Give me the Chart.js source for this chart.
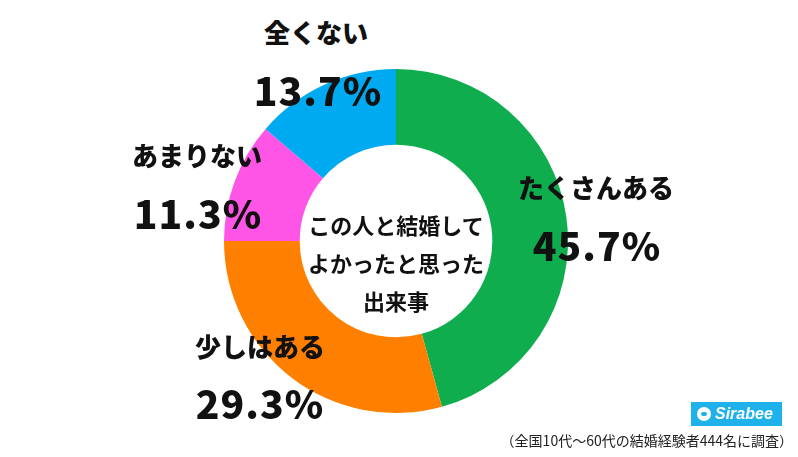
<!DOCTYPE html>
<html lang="ja">
<head>
<meta charset="utf-8">
<script src="https://cdn.jsdelivr.net/npm/chart.js@4"></script>
<style>
  html, body { margin: 0; padding: 0; background: #fff; }
  body { width: 798px; height: 457px; position: relative; overflow: hidden;
         font-family: "Noto Sans CJK JP", "Noto Sans", sans-serif; color: #111; }
  #wrap { position: absolute; left: 224px; top: 69px; width: 344px; height: 344px; }
  .lbl { position: absolute; transform: translate(-50%, -50%); white-space: nowrap;
         line-height: 1; font-weight: 900; }
  .cat { font-size: 26px; }
  .pct { font-size: 39px; font-weight: 900; letter-spacing: 1px; }
  #center { position: absolute; left: 396px; top: 262px; transform: translate(-50%, -50%);
            text-align: center; font-size: 22px; font-weight: 700; line-height: 38px; }
  #logo { position: absolute; left: 691px; top: 402px; width: 91px; height: 24px; background: #1fb1ea;
          color: #fff; font-family: "Liberation Sans", sans-serif; font-style: italic; font-weight: 700;
          font-size: 16px; line-height: 24px; }
  #logo .dot { position: absolute; left: 6px; top: 5px; width: 14px; height: 14px; border-radius: 50%; background: #fff; }
  #logo .dot::after { content: ''; position: absolute; left: 4px; top: 5px; width: 6px; height: 4px; border-radius: 2px; background: #1fb1ea; }
  #logo .txt { position: absolute; left: 24px; top: 0; }
  #note { position: absolute; right: 5px; top: 431px; font-size: 14px; line-height: 18px; color: #222; }
</style>
</head>
<body>
<div id="wrap"><canvas id="c"></canvas></div>
<div id="labels"></div>
<div id="center">この人と結婚して<br>よかったと思った<br>出来事</div>
<div id="logo"><span class="dot"></span><span class="txt">Sirabee</span></div>
<div id="note">（全国10代〜60代の結婚経験者444名に調査）</div>
<script>
// Answers, clockwise from 12 o'clock
const categories = ['たくさんある', '少しはある', 'あまりない', '全くない']
const values = [45.7, 29.3, 11.3, 13.7]
const colors = ['#10ad4f', '#ff8000', '#ff55e6', '#00aaf0']

// Where each answer's label pair sits (category text centre, percent text centre)
const labelPos = [
  { cx: 596, cy: 187, px: 597, py: 244 },
  { cx: 260, cy: 346, px: 260, py: 402 },
  { cx: 197, cy: 155, px: 198, py: 212 },
  { cx: 316, cy: 32, px: 318, py: 89 }
]

const box = document.getElementById('labels')
categories.forEach((name, i) => {
  const p = labelPos[i]
  box.insertAdjacentHTML('beforeend',
    `<div class="lbl cat" style="left:${p.cx}px;top:${p.cy}px">${name}</div>` +
    `<div class="lbl pct" style="left:${p.px}px;top:${p.py}px">${values[i].toFixed(1)}%</div>`)
})

new Chart(document.getElementById('c'), {
  type: 'doughnut',
  data: {
    labels: categories,
    datasets: [{ data: values, backgroundColor: colors, borderWidth: 0, hoverOffset: 0 }]
  },
  options: {
    responsive: true,
    maintainAspectRatio: false,
    animation: false,
    cutout: '56%',
    layout: { padding: 0 },
    plugins: { legend: { display: false }, tooltip: { enabled: false } }
  }
})
</script>
</body>
</html>
